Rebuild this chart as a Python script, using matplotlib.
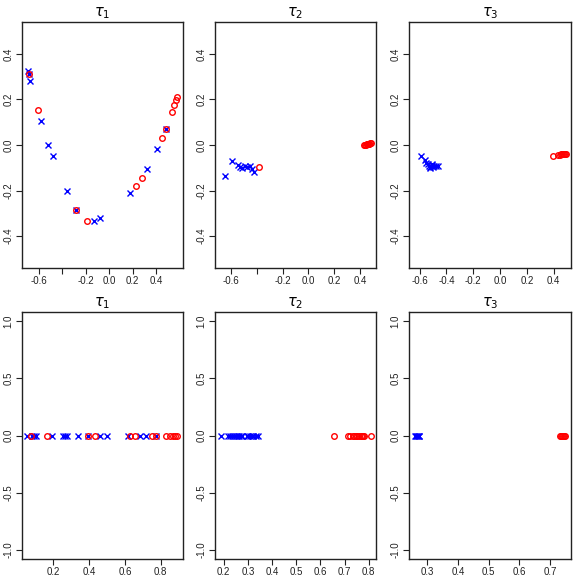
import matplotlib
matplotlib.use("Agg")
import matplotlib.pyplot as plt
import numpy as np

plt.rcParams['font.family'] = ['Liberation Sans', 'DejaVu Sans']
plt.rcParams['mathtext.fontset'] = 'dejavusans'

# ---------------- data ----------------
titles = [r"$\tau_1$", r"$\tau_2$", r"$\tau_3$"]

# top row: 2-D embeddings
t1_blue_x = [-0.697, -0.688, -0.674, -0.583, -0.520, -0.483, -0.364, -0.281, -0.133, -0.084, 0.175, 0.320, 0.409, 0.483]
t1_blue_y = [0.324, 0.312, 0.280, 0.104, 0.001, -0.050, -0.200, -0.286, -0.333, -0.321, -0.210, -0.105, -0.016, 0.072]
t1_red_x = [-0.688, -0.609, -0.281, -0.187, 0.226, 0.275, 0.448, 0.483, 0.534, 0.551, 0.565, 0.577]
t1_red_y = [0.312, 0.152, -0.286, -0.333, -0.181, -0.146, 0.029, 0.072, 0.147, 0.175, 0.196, 0.210]

t2_blue_x = [-0.641, -0.587, -0.541, -0.528, -0.510, -0.489, -0.471, -0.451, -0.435, -0.420]
t2_blue_y = [-0.136, -0.072, -0.086, -0.096, -0.101, -0.093, -0.096, -0.092, -0.104, -0.117]
t2_red_x = [-0.383, 0.430, 0.440, 0.445, 0.450, 0.455, 0.460, 0.465, 0.470, 0.475, 0.480]
t2_red_y = [-0.098, 0.000, 0.001, 0.002, 0.003, 0.004, 0.005, 0.006, 0.006, 0.007, 0.008]

t3_blue_x = [-0.588, -0.563, -0.550, -0.540, -0.530, -0.520, -0.510, -0.500, -0.490, -0.480, -0.465, -0.525, -0.505]
t3_blue_y = [-0.047, -0.067, -0.080, -0.085, -0.090, -0.095, -0.088, -0.098, -0.092, -0.090, -0.090, -0.100, -0.083]
t3_red_x = [0.395, 0.435, 0.445, 0.455, 0.462, 0.470, 0.478, 0.485, 0.490]
t3_red_y = [-0.047, -0.042, -0.042, -0.041, -0.041, -0.040, -0.040, -0.040, -0.041]

# bottom row: 1-D embeddings
b1_blue = [0.054, 0.082, 0.093, 0.103, 0.194, 0.256, 0.265, 0.275, 0.340, 0.396, 0.458, 0.499, 0.619, 0.686, 0.718, 0.772]
b1_red = [0.075, 0.166, 0.391, 0.434, 0.630, 0.658, 0.753, 0.772, 0.830, 0.850, 0.867, 0.882, 0.892]
b2_blue = [0.189, 0.217, 0.226, 0.236, 0.244, 0.251, 0.258, 0.265, 0.272, 0.277, 0.295, 0.302, 0.309, 0.316, 0.323, 0.333, 0.341]
b2_red = [0.655, 0.715, 0.724, 0.734, 0.741, 0.748, 0.752, 0.759, 0.766, 0.773, 0.777, 0.780, 0.809]
b3_blue = [0.259, 0.262, 0.265, 0.268, 0.271, 0.273]
b3_red = [0.733, 0.737, 0.740, 0.743, 0.746, 0.749]

top_data = [(t1_blue_x, t1_blue_y, t1_red_x, t1_red_y),
            (t2_blue_x, t2_blue_y, t2_red_x, t2_red_y),
            (t3_blue_x, t3_blue_y, t3_red_x, t3_red_y)]
bottom_data = [(b1_blue, b1_red), (b2_blue, b2_red), (b3_blue, b3_red)]

top_xticks = [-0.6, -0.4, -0.2, 0.0, 0.2, 0.4]
top_xlabels = [["-0.6", "", "-0.2", "0.0", "0.2", "0.4"],
               ["-0.6", "", "-0.2", "0.0", "0.2", "0.4"],
               ["-0.6", "-0.4", "-0.2", "0.0", "0.2", "0.4"]]
top_yticks = [-0.4, -0.2, 0.0, 0.2, 0.4]
top_ylabels = ["-0.4", "-0.2", "0.0", "0.2", "0.4"]
bottom_xticks = [[0.2, 0.4, 0.6, 0.8],
                 [0.2, 0.3, 0.4, 0.5, 0.6, 0.7, 0.8],
                 [0.3, 0.4, 0.5, 0.6, 0.7]]
bottom_yticks = [-1.0, -0.5, 0.0, 0.5, 1.0]
bottom_ylabels = ["-1.0", "-0.5", "0.0", "0.5", "1.0"]

top_xlims = [(-0.745, 0.628), (-0.721, 0.521), (-0.68, 0.53)]
bottom_xlims = [(0.024, 0.925), (0.164, 0.830), (0.240, 0.768)]

# ---------------- layout ----------------
W = 581.0
fig = plt.figure(figsize=(5.81, 5.81), dpi=100)
cols = [(22, 183), (215, 376), (409, 571)]
rows = [(22, 268), (312, 559)]

def make_ax(c, r):
    x0, x1 = cols[c]
    y0, y1 = rows[r]
    return fig.add_axes([x0 / W, 1 - y1 / W, (x1 - x0) / W, (y1 - y0) / W])

ms = 4.0
def style(ax):
    for s in ax.spines.values():
        s.set_linewidth(1.0)
        s.set_color('#222222')
    ax.tick_params(direction='out', length=4, width=0.8, labelsize=7, colors='#222222', pad=2)
    for lab in ax.get_yticklabels():
        lab.set_rotation(90)
        lab.set_va('center')

for i in range(3):
    bx, by, rx, ry = top_data[i]
    ax = make_ax(i, 0)
    ax.plot(bx, by, linestyle='none', marker='x', color='blue', markersize=ms, markeredgewidth=1.0)
    ax.plot(rx, ry, linestyle='none', marker='o', color='red', markerfacecolor='none', markersize=ms, markeredgewidth=1.0)
    ax.set_xlim(*top_xlims[i])
    ax.set_ylim(-0.54, 0.54)
    ax.set_xticks(top_xticks)
    ax.set_xticklabels(top_xlabels[i])
    ax.set_yticks(top_yticks)
    ax.set_yticklabels(top_ylabels)
    style(ax)
    ax.set_title(titles[i], fontsize=10.5, pad=4)

for i in range(3):
    bb, rr = bottom_data[i]
    ax = make_ax(i, 1)
    ax.plot(bb, np.zeros(len(bb)), linestyle='none', marker='x', color='blue', markersize=ms, markeredgewidth=1.0)
    ax.plot(rr, np.zeros(len(rr)), linestyle='none', marker='o', color='red', markerfacecolor='none', markersize=ms, markeredgewidth=1.0)
    ax.set_xlim(*bottom_xlims[i])
    ax.set_ylim(-1.08, 1.08)
    ax.set_xticks(bottom_xticks[i])
    ax.set_xticklabels(["%.1f" % v for v in bottom_xticks[i]])
    ax.set_yticks(bottom_yticks)
    ax.set_yticklabels(bottom_ylabels)
    style(ax)
    ax.set_title(titles[i], fontsize=10.5, pad=4)

fig.savefig("out.png", dpi=100)
